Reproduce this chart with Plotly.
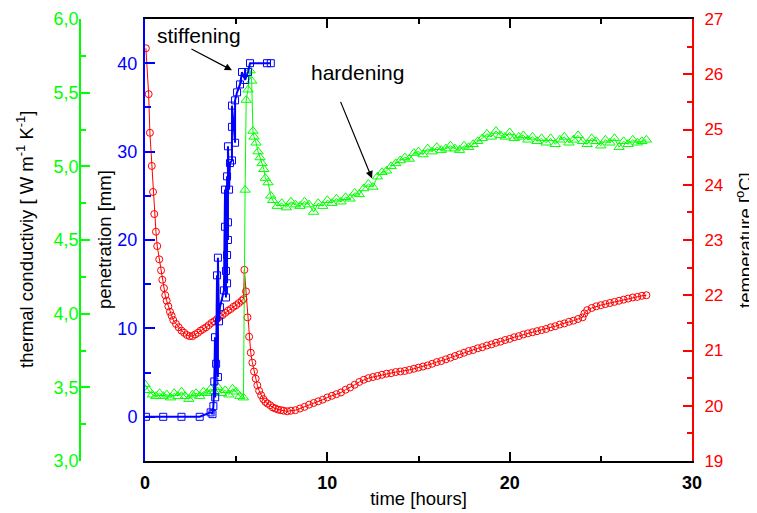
import plotly.graph_objects as go

# penetration (blue squares) [mm]
t_pen = [0.05, 1.0, 2.0, 3.0, 3.6, 3.7, 3.75, 3.8, 3.84, 3.85, 3.9, 3.95, 4.0, 4.0,
         4.06, 4.11, 4.33, 4.39, 4.39, 4.44, 4.44, 4.5, 4.5, 4.5, 4.55, 4.55, 4.55, 4.61,
         4.66, 4.77, 4.77, 4.77, 4.94, 4.94, 5.05, 5.21, 5.32, 5.49, 5.65, 5.76, 6.69, 6.9]
pen = [0, 0, 0, 0, 0.5, 0.3, 1.2, 4.0, 9.0, 2.2, 6.0, 16.0, 4.5, 18.0,
       10.8, 12.4, 14.3, 21.5, 25.7, 13.5, 16.5, 15.1, 18.3, 27.2, 20.0, 22.0, 30.6, 25.7,
       28.7, 29.0, 32.8, 35.2, 31.0, 35.8, 36.7, 37.6, 39.0, 38.1, 39.0, 40.0, 40.0, 40.0]

# thermal conductivity (green triangles) [W/mK]
t_tc = [0.0, 0.2, 0.4, 0.6, 0.8, 1.0, 1.2, 1.4, 1.6, 1.8, 2.0, 2.2, 2.4, 2.6,
        2.8, 3.0, 3.2, 3.4, 3.6, 3.8, 4.0, 4.2, 4.4, 4.6, 4.8, 5.0, 5.2, 5.4,
        5.49, 5.55, 5.65, 5.76, 5.85, 5.92, 5.98, 6.09, 6.2, 6.31, 6.42, 6.52, 6.6, 6.75, 6.9, 7.0,
        7.25, 7.5, 7.75, 8.0, 8.25, 8.5, 8.75, 9.0, 9.25, 9.5,
        9.75, 10.0, 10.25, 10.5, 10.75, 11.0, 11.25, 11.5, 11.75, 12.0,
        12.25, 12.5, 12.75, 13.0, 13.25, 13.5, 13.75, 14.0, 14.25, 14.5,
        14.75, 15.0, 15.25, 15.5, 15.75, 16.0, 16.25, 16.5, 16.75, 17.0,
        17.25, 17.5, 17.75, 18.0, 18.25, 18.5, 18.75, 19.0, 19.25, 19.5,
        19.75, 20.0, 20.25, 20.5, 20.75, 21.0, 21.25, 21.5, 21.75, 22.0,
        22.25, 22.5, 22.75, 23.0, 23.25, 23.5, 23.75, 24.0, 24.25, 24.5,
        24.75, 25.0, 25.25, 25.5, 25.75, 26.0, 26.25, 26.5, 26.75, 27.0,
        27.25, 27.5]
tc = [3.52, 3.48, 3.45, 3.44, 3.46, 3.44, 3.45, 3.43, 3.46, 3.44, 3.47, 3.44, 3.42, 3.45,
      3.46, 3.44, 3.47, 3.46, 3.49, 3.47, 3.50, 3.46, 3.48, 3.45, 3.49, 3.47, 3.44, 3.43,
      4.84, 5.45, 5.52, 5.65, 5.58, 5.24, 5.20, 5.16, 5.10, 5.06, 5.02, 4.98, 4.92, 4.89, 4.80, 4.77,
      4.73, 4.75, 4.72, 4.76, 4.74, 4.73, 4.76, 4.74, 4.69, 4.75,
      4.73, 4.77, 4.75, 4.78, 4.76, 4.79, 4.78, 4.82, 4.81, 4.85,
      4.88, 4.86, 4.93, 4.96, 4.97, 5.00, 5.02, 5.04, 5.06, 5.05,
      5.09, 5.10, 5.08, 5.12, 5.10, 5.13, 5.11, 5.12, 5.14, 5.12,
      5.11, 5.14, 5.13, 5.15, 5.17, 5.19, 5.22, 5.20, 5.24, 5.21,
      5.20, 5.23, 5.19, 5.20, 5.21, 5.18, 5.20, 5.17, 5.19, 5.16,
      5.19, 5.15, 5.18, 5.20, 5.16, 5.18, 5.21, 5.17, 5.15, 5.19,
      5.17, 5.14, 5.18, 5.16, 5.19, 5.13, 5.17, 5.15, 5.18, 5.16,
      5.17, 5.18]

# temperature (red circles) [C]
t_temp = [0.05, 0.2, 0.27, 0.37, 0.44, 0.51, 0.6, 0.67, 0.78, 0.88, 0.95, 1.04, 1.11, 1.19, 1.28, 1.37, 1.46,
          1.55, 1.7, 1.85, 2.0, 2.15, 2.3, 2.45, 2.6, 2.75, 2.9, 3.05, 3.2, 3.35, 3.5, 3.65, 3.8, 3.95,
          4.1, 4.25, 4.4, 4.55, 4.7, 4.85, 5.0, 5.15, 5.3, 5.4,
          5.45, 5.54, 5.62, 5.71, 5.8, 5.89, 5.98, 6.07, 6.16, 6.26, 6.37, 6.49, 6.6, 6.72, 6.86, 7.0,
          7.15, 7.3, 7.45, 7.6, 7.8,
          8.0, 8.25, 8.5, 8.75, 9.0, 9.25, 9.5, 9.75, 10.0, 10.25,
          10.5, 10.75, 11.0, 11.25, 11.5, 11.75, 12.0, 12.25, 12.5, 12.75,
          13.0, 13.25, 13.5, 13.75, 14.0, 14.25, 14.5, 14.75, 15.0, 15.25,
          15.5, 15.75, 16.0, 16.25, 16.5, 16.75, 17.0, 17.25, 17.5, 17.75,
          18.0, 18.25, 18.5, 18.75, 19.0, 19.25, 19.5, 19.75, 20.0, 20.25,
          20.5, 20.75, 21.0, 21.25, 21.5, 21.75, 22.0, 22.25, 22.5, 22.75,
          23.0, 23.25, 23.5, 23.75, 24.0, 24.1,
          24.25, 24.5, 24.75, 25.0, 25.25, 25.5, 25.75, 26.0, 26.25, 26.5, 26.75, 27.0, 27.25, 27.5]
temp = [26.47, 25.64, 24.94, 24.34, 23.87, 23.47, 23.15, 22.89, 22.65, 22.45, 22.28, 22.13, 22.0, 21.9, 21.8, 21.7, 21.63,
        21.55, 21.48, 21.42, 21.36, 21.32, 21.28, 21.26, 21.26, 21.29, 21.32, 21.36, 21.39, 21.42, 21.46, 21.5, 21.53, 21.57,
        21.61, 21.64, 21.68, 21.72, 21.75, 21.79, 21.82, 21.86, 21.9, 21.93,
        22.46, 22.07, 21.6, 21.25, 20.96, 20.78, 20.62, 20.49, 20.37, 20.27, 20.19, 20.12, 20.07, 20.04, 20.01, 19.97,
        19.95, 19.93, 19.92, 19.91, 19.9,
        19.91, 19.92, 19.95, 19.98, 20.02, 20.05, 20.08, 20.11, 20.15, 20.18,
        20.21, 20.24, 20.29, 20.33, 20.38, 20.43, 20.47, 20.5, 20.52, 20.54,
        20.56, 20.58, 20.59, 20.61, 20.62, 20.63, 20.65, 20.67, 20.69, 20.71,
        20.73, 20.76, 20.79, 20.81, 20.84, 20.87, 20.9, 20.93, 20.96, 20.99,
        21.01, 21.04, 21.06, 21.09, 21.11, 21.14, 21.16, 21.19, 21.21, 21.24,
        21.26, 21.29, 21.31, 21.33, 21.35, 21.37, 21.39, 21.42, 21.44, 21.47,
        21.49, 21.52, 21.54, 21.57, 21.6, 21.67,
        21.73, 21.77, 21.8, 21.82, 21.84, 21.86, 21.88, 21.9, 21.92, 21.94, 21.96, 21.97, 21.99, 22.0]

RED = "#ff0000"
GREEN = "#00ff00"
BLUE = "#0000ff"
FONT = "Liberation Sans, Arial, sans-serif"

fig = go.Figure()
# temperature -> yaxis (right), drawn first
fig.add_trace(go.Scatter(x=t_temp, y=temp, yaxis="y", mode="lines+markers",
                         line=dict(color=RED, width=1),
                         marker=dict(symbol="circle-open", size=7, color=RED, line=dict(width=1))))
fig.add_trace(go.Scatter(x=t_tc, y=tc, yaxis="y2", mode="lines+markers",
                         line=dict(color=GREEN, width=1),
                         marker=dict(symbol="triangle-up-open", size=9, color=GREEN, line=dict(width=1))))
fig.add_trace(go.Scatter(x=t_pen, y=pen, yaxis="y3", mode="lines+markers",
                         line=dict(color=BLUE, width=2),
                         marker=dict(symbol="square-open", size=7, color=BLUE, line=dict(width=1))))

# page body adds an 8px margin, so the figure is 8px smaller than the window
x0 = 65 / 612

fig.update_layout(
    width=749, height=505,
    margin=dict(l=72, r=65, t=10.5, b=51.5, autoexpand=False),
    paper_bgcolor="white", plot_bgcolor="white",
    showlegend=False,
    separators=",.",
    font=dict(family=FONT, size=18, color="black"),
    xaxis=dict(domain=[x0, 1], range=[0, 30], tick0=0, dtick=10, automargin=False,
               ticks="inside", ticklen=9, tickwidth=1.5, tickcolor="black",
               minor=dict(dtick=5, ticks="inside", ticklen=5, tickwidth=1.5, tickcolor="black"),
               showline=True, linecolor="black", linewidth=2, mirror="ticks",
               showgrid=False, zeroline=False,
               tickfont=dict(size=18, weight="bold"), ticklabelstandoff=4,
               title=dict(text="time [hours]", font=dict(size=18.5), standoff=0)),
    yaxis=dict(range=[19, 27], side="right", anchor="x", dtick=1, automargin=False,
               ticks="inside", ticklen=9, tickwidth=1.5, tickcolor=RED,
               minor=dict(dtick=0.5, ticks="inside", ticklen=5, tickwidth=1.5, tickcolor=RED),
               showline=True, linecolor=RED, linewidth=2,
               showgrid=False, zeroline=False,
               tickfont=dict(color=RED, size=17), ticklabelstandoff=7),
    yaxis2=dict(range=[3, 6], overlaying="y", side="left", anchor="free", position=0,
                dtick=0.5, tickformat=".1f", automargin=False,
                ticks="inside", ticklen=9, tickwidth=1.5, tickcolor=GREEN,
                minor=dict(dtick=0.25, ticks="inside", ticklen=5, tickwidth=1.5, tickcolor=GREEN),
                showline=True, linecolor=GREEN, linewidth=1.5,
                showgrid=False, zeroline=False,
                tickfont=dict(color=GREEN, size=18), ticklabelstandoff=-3),
    yaxis3=dict(range=[-5, 45], overlaying="y", side="left", anchor="x",
                tick0=0, dtick=10, automargin=False,
                ticks="inside", ticklen=10, tickwidth=1.5, tickcolor=BLUE,
                minor=dict(dtick=5, ticks="inside", ticklen=6, tickwidth=1.5, tickcolor=BLUE),
                showline=True, linecolor=BLUE, linewidth=2,
                showgrid=False, zeroline=False,
                tickfont=dict(color=BLUE, size=18), ticklabelstandoff=2),
)

# axis titles (paper x measured from the green axis line)
fig.add_annotation(text="thermal conductiviy [ W m<sup>-1</sup> K<sup>-1</sup>]",
                   xref="paper", yref="paper", x=(25 - 80) / 612, y=0.5, textangle=-90,
                   showarrow=False, xanchor="center", yanchor="middle", font=dict(size=18.5))
fig.add_annotation(text="penetration [mm]",
                   xref="paper", yref="paper", x=(104 - 80) / 612, y=0.5, textangle=-90,
                   showarrow=False, xanchor="center", yanchor="middle", font=dict(size=18.5))
fig.add_annotation(text="temperature [<sup>o</sup>C]",
                   xref="paper", yref="paper", x=(744 - 80) / 612, y=0.5, textangle=-90,
                   showarrow=False, xanchor="center", yanchor="middle", font=dict(size=18.5))

# labels with arrows
fig.add_annotation(text="stiffening", xref="x", yref="y3", x=2.96, y=43.1,
                   showarrow=False, font=dict(size=21))
fig.add_annotation(text="", xref="x", yref="y3", x=4.77, y=39.2, ax=-42, ay=-22,
                   showarrow=True, arrowhead=2, arrowsize=1.2, arrowwidth=1.2, arrowcolor="black")
fig.add_annotation(text="hardening", xref="x", yref="y3", x=11.63, y=38.95,
                   showarrow=False, font=dict(size=21))
fig.add_annotation(text="", xref="x", yref="y3", x=12.45, y=26.97, ax=-32, ay=-78,
                   showarrow=True, arrowhead=2, arrowsize=1.2, arrowwidth=1.2, arrowcolor="black")

fig.write_html("out.html")
